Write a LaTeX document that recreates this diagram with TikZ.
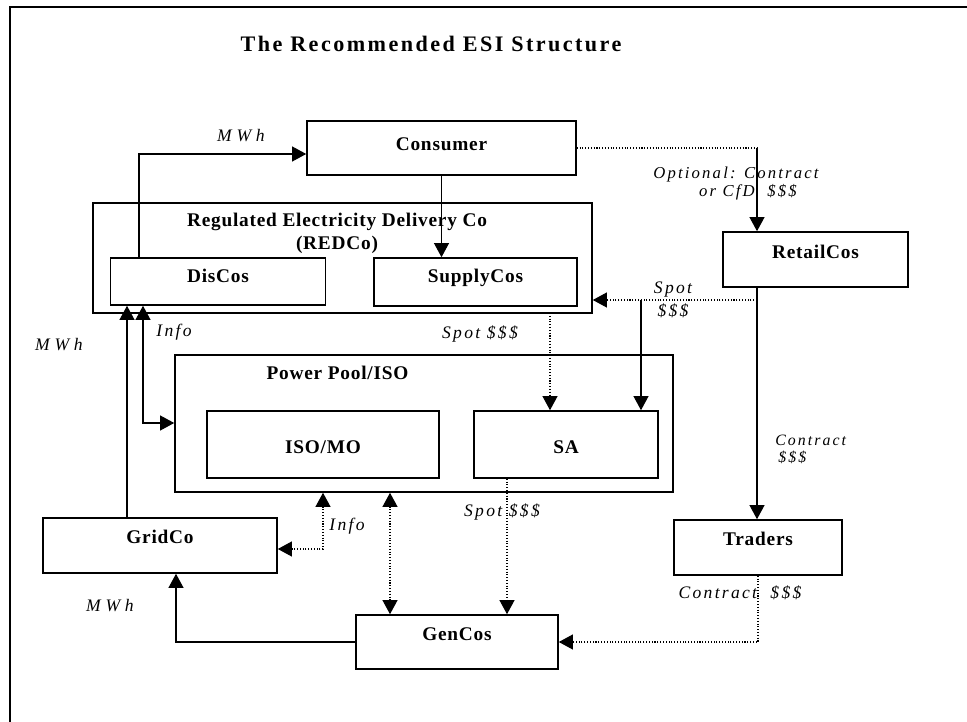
\documentclass[tikz,border=0pt]{standalone}
\usepackage{fontspec}
\setmainfont{Liberation Serif}
\newfontfamily\boxfont[LetterSpace=4]{Liberation Serif}
\newfontfamily\ttlfont[LetterSpace=11]{Liberation Serif}
\newfontfamily\itfont[LetterSpace=13]{Liberation Serif}
\newfontfamily\mwhfont[LetterSpace=27]{Liberation Serif}
\usetikzlibrary{arrows.meta}

\tikzset{
  box/.style={draw, line width=0.9pt, inner sep=0pt, text height=8pt,
    font=\boxfont\bfseries\fontsize{11pt}{13pt}\selectfont},
  boxtext/.style={inner sep=0pt, font=\boxfont\bfseries\fontsize{11pt}{13pt}\selectfont},
  sz/.style 2 args={minimum width=#1*0.02cm, minimum height=#2*0.02cm},
  conn/.style={line width=0.6pt},
  dotline/.style={line width=0.6pt, densely dotted},
  lab/.style={inner sep=0pt, anchor=base, font=\itfont\itshape\fontsize{10pt}{12pt}\selectfont},
  optlab/.style={inner sep=0pt, anchor=base, font=\itfont\itshape\fontsize{9.5pt}{11pt}\selectfont},
  smalllab/.style={inner sep=0pt, anchor=base west, font=\itfont\itshape\fontsize{9pt}{11pt}\selectfont},
  mwhlab/.style={inner sep=0pt, anchor=base, font=\mwhfont\itshape\fontsize{10pt}{12pt}\selectfont},
  >={Triangle[length=8pt,width=8.5pt]}
}

\begin{document}
\begin{tikzpicture}[x=0.02cm, y=-0.02cm]
\useasboundingbox (0,0) rectangle (967,722);

% page frame
\draw[line width=1.1pt] (10,722) -- (10,7) -- (967,7);

% title
\node[anchor=base, inner sep=0pt, font=\ttlfont\bfseries\fontsize{12.6pt}{15pt}\selectfont]
  (title) at (431,52) {The Recommended ESI Structure};

% boxes
\node[box, sz={269}{54}, text depth=4.7pt] (consumer) at (441.5,148) {Consumer};
\node[box, sz={499}{110}] (redco) at (342.5,258) {};
\node[boxtext, align=center] (redcolabel) at (337,233) {Regulated Electricity Delivery Co\\(REDCo)};
\node[box, sz={215}{47}, text depth=7.3pt] (discos) at (218,281.5) {DisCos};
\node[box, sz={203}{48}, text depth=7.3pt] (supplycos) at (475.5,282) {SupplyCos};
\node[box, sz={185}{55}, text depth=9.5pt] (retailcos) at (815.5,259.5) {RetailCos};
\node[box, sz={498}{137}] (powerpool) at (424,423.5) {};
\node[boxtext, anchor=base] (pooltitle) at (337.5,380) {Power Pool/ISO};
\node[box, sz={232}{67}, text height=10.7pt, text depth=0pt] (isomo) at (323,444.5) {ISO/MO};
\node[box, sz={184}{67}, text height=10.7pt, text depth=0pt] (sa) at (566,444.5) {SA};
\node[box, sz={234}{55}, text depth=10.3pt] (gridco) at (160,545.5) {GridCo};
\node[box, sz={168}{55}, text depth=10.3pt] (traders) at (758,547.5) {Traders};
\node[box, sz={202}{54}, text depth=9.8pt] (gencos) at (457,642) {GenCos};

% bends and branch points of the connectors
\coordinate (mwhup) at (139,154);
\coordinate (ctrtop) at (757,148);
\coordinate (spotsplit) at (757,300);
\coordinate (spotbranch) at (641,300);
\coordinate (spotdown) at (550,313);
\coordinate (infoup) at (143,423);
\coordinate (mwhgrid) at (127,0);
\coordinate (infolow) at (323,549);
\coordinate (genlink) at (390,0);
\coordinate (spotgen) at (507,0);
\coordinate (mwhlow) at (176,0);

% connectors
\draw[conn,->] (discos.north -| mwhup) |- (consumer.west |- mwhup);
\draw[conn,->] (consumer.south) -- (consumer.south |- supplycos.north);
\draw[dotline] (consumer.east |- ctrtop) -- (ctrtop);
\draw[conn,->] (ctrtop) -- (ctrtop |- retailcos.north);
\draw[conn,->] (ctrtop |- retailcos.south) -- (ctrtop |- traders.north);
\draw[dotline,->] (spotsplit) -- (redco.east |- spotsplit);
\draw[conn,->] (spotbranch) -- (spotbranch |- sa.north);
\draw[dotline,->] (spotdown) -- (spotdown |- sa.north);
\draw[conn,<->] (discos.south -| infoup) |- (powerpool.west |- infoup);
\draw[conn,->] (gridco.north -| mwhgrid) -- (discos.south -| mwhgrid);
\draw[dotline,<->] (powerpool.south -| infolow) |- (gridco.east |- infolow);
\draw[dotline,<->] (powerpool.south -| genlink) -- (gencos.north -| genlink);
\draw[dotline,->] (sa.south -| spotgen) -- (gencos.north -| spotgen);
\draw[conn,->] (gencos.west) -| (gridco.south -| mwhlow);
\draw[dotline,->] (traders.south) |- (gencos.east);

% connector labels
\node[mwhlab] (l1) at (241,142) {MWh};
\node[mwhlab] (l2) at (59,351) {MWh};
\node[mwhlab] (l3) at (110,611) {MWh};
\node[lab] (l4) at (174,337) {Info};
\node[lab] (l5) at (347,531) {Info};
\node[lab] (l6) at (480,339) {Spot \$\$\$};
\node[optlab] (l7) at (736,179) {Optional: Contract};
\node[optlab] (l8) at (748,197) {or CfD\ \ \$\$\$};
\node[lab] (l9) at (673,294) {Spot};
\node[lab] (l10) at (673,317) {\$\$\$};
\node[smalllab] (l11) at (775,446) {Contract};
\node[smalllab] (l12) at (778,463) {\$\$\$};
\node[lab] (l13) at (502,517) {Spot \$\$\$};
\node[lab] (l14) at (740,599) {Contract\ \ \$\$\$};
\end{tikzpicture}
\end{document}
